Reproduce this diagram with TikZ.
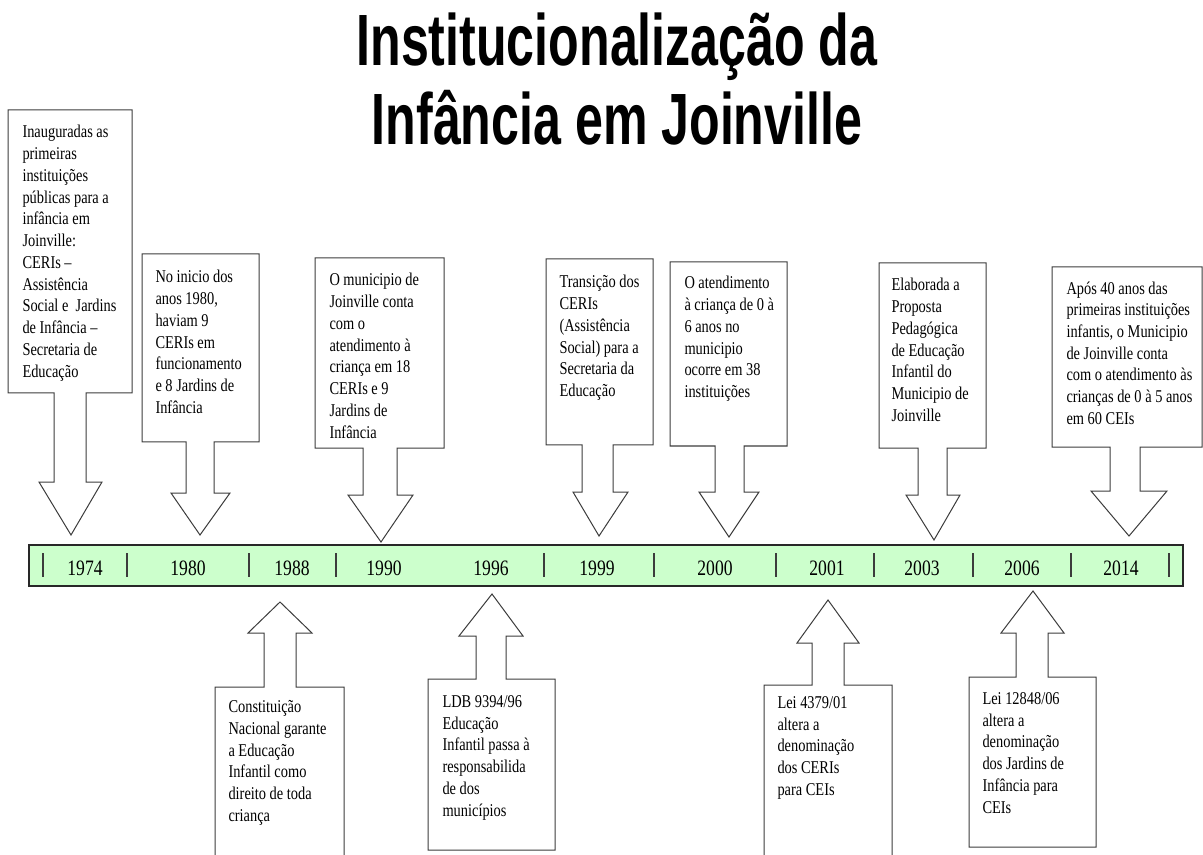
\documentclass[tikz,border=0pt]{standalone}
\usepackage{fontspec}
\setmainfont{Liberation Serif}[FakeStretch=0.8]
\newfontfamily\titlefont{Liberation Sans}[FakeStretch=0.69]

\tikzset{every picture/.style={line width=0.75pt}}
\tikzset{
  callout/.style={draw={rgb, 255:red, 60; green, 60; blue, 60}, line width=0.75, fill=white},
  boxtxt/.style={anchor=north west, inner sep=0pt, align=left, font=\fontsize{13.5pt}{16.3pt}\selectfont},
  yeartxt/.style={anchor=base, inner sep=0pt, font=\fontsize{16.5pt}{18pt}\selectfont},
  titletxt/.style={anchor=base, inner sep=0pt, font=\titlefont\bfseries\fontsize{54.5pt}{60pt}\selectfont},
  yeartick/.style={draw={rgb, 255:red, 60; green, 60; blue, 60}, line width=1.1}
}

\begin{document}
\begin{tikzpicture}[x=0.75pt,y=0.75pt,yscale=-1,xscale=1]
\useasboundingbox (0,0) rectangle (1203,855);

% Title
\draw (617,66) node (title1) [titletxt] {Institucionalização da};
\draw (617,145) node (title2) [titletxt] {Infância em Joinville};

%Shape: Rectangle [id:timeline bar]
\draw [draw={rgb, 255:red, 40; green, 40; blue, 40}, fill={rgb, 255:red, 204; green, 255; blue, 204}, line width=1] (29,545) rectangle (1183,586);
%Straight Lines [id:ticks]
\foreach \tx in {43,127,249,336,544,654,776,874,973,1071,1169}
  \draw [yeartick] (\tx,553) -- (\tx,577);

% Text Node
\draw (85,575) node (y1974) [yeartxt] {1974};
\draw (188,575) node (y1980) [yeartxt] {1980};
\draw (292,575) node (y1988) [yeartxt] {1988};
\draw (384,575) node (y1990) [yeartxt] {1990};
\draw (491,575) node (y1996) [yeartxt] {1996};
\draw (597,575) node (y1999) [yeartxt] {1999};
\draw (715,575) node (y2000) [yeartxt] {2000};
\draw (827,575) node (y2001) [yeartxt] {2001};
\draw (922,575) node (y2003) [yeartxt] {2003};
\draw (1022,575) node (y2006) [yeartxt] {2006};
\draw (1121,575) node (y2014) [yeartxt] {2014};

%Shape: Down Arrow Callout [id:1974]
\draw [callout] (8,110) -- (132,110) -- (132,393) -- (86,393) -- (86,482) -- (102,482) -- (71,535) -- (39,482) -- (54,482) -- (54,393) -- (8,393) -- cycle ;
%Shape: Down Arrow Callout [id:1980]
\draw [callout] (142,254) -- (259,254) -- (259,442) -- (214,442) -- (214,493) -- (230,493) -- (200,535) -- (171,493) -- (186,493) -- (186,442) -- (142,442) -- cycle ;
%Shape: Down Arrow Callout [id:1990]
\draw [callout] (315,258) -- (444,258) -- (444,448) -- (397,448) -- (397,495) -- (413,495) -- (381,542) -- (348,495) -- (363,495) -- (363,448) -- (315,448) -- cycle ;
%Shape: Down Arrow Callout [id:1999]
\draw [callout] (546,259) -- (653,259) -- (653,445) -- (613,445) -- (613,492) -- (628,492) -- (599,536) -- (573,492) -- (582,492) -- (582,445) -- (546,445) -- cycle ;
%Shape: Down Arrow Callout [id:2000]
\draw [callout] (670,262) -- (787,262) -- (787,446) -- (744,446) -- (744,492) -- (759,492) -- (729,537) -- (699,492) -- (715,492) -- (715,446) -- (670,446) -- cycle ;
%Shape: Down Arrow Callout [id:2003]
\draw [callout] (879,263) -- (986,263) -- (986,448) -- (947,448) -- (947,495) -- (960,495) -- (934,540) -- (906,495) -- (918,495) -- (918,448) -- (879,448) -- cycle ;
%Shape: Down Arrow Callout [id:2014]
\draw [callout] (1052,267) -- (1202,267) -- (1202,447) -- (1140,447) -- (1140,491) -- (1167,491) -- (1129,536) -- (1091,491) -- (1110,491) -- (1110,447) -- (1052,447) -- cycle ;

%Shape: Up Arrow Callout [id:1988]
\draw [callout] (280,602) -- (312,633) -- (296,633) -- (296,687) -- (344,687) -- (344,862) -- (215,862) -- (215,687) -- (264,687) -- (264,633) -- (248,633) -- cycle ;
%Shape: Up Arrow Callout [id:1996]
\draw [callout] (492,594) -- (523,636) -- (506,636) -- (506,679) -- (555,679) -- (555,850) -- (428,850) -- (428,679) -- (476,679) -- (476,636) -- (459,636) -- cycle ;
%Shape: Up Arrow Callout [id:2001]
\draw [callout] (828,600) -- (859,643) -- (844,643) -- (844,685) -- (892,685) -- (892,862) -- (764,862) -- (764,685) -- (812,685) -- (812,643) -- (797,643) -- cycle ;
%Shape: Up Arrow Callout [id:2006]
\draw [callout] (1033,591) -- (1064,633) -- (1048,633) -- (1048,677) -- (1096,677) -- (1096,847) -- (969,847) -- (969,677) -- (1016,677) -- (1016,633) -- (1001,633) -- cycle ;

% Text Node
\draw (22,125) node (t1974) [boxtxt] {Inauguradas as\\primeiras\\instituições\\públicas para a\\infância em\\Joinville:\\CERIs –\\Assistência\\Social e~ Jardins\\de Infância –\\Secretaria de\\Educação};
% Text Node
\draw (155,270) node (t1980) [boxtxt] {No inicio dos\\anos 1980,\\haviam 9\\CERIs em\\funcionamento\\e 8 Jardins de\\Infância};
% Text Node
\draw (329,273) node (t1990) [boxtxt] {O municipio de\\Joinville conta\\com o\\atendimento à\\criança em 18\\CERIs e 9\\Jardins de\\Infância};
% Text Node
\draw (559,275) node (t1999) [boxtxt] {Transição dos\\CERIs\\(Assistência\\Social) para a\\Secretaria da\\Educação};
% Text Node
\draw (684,276) node (t2000) [boxtxt] {O atendimento\\à criança de 0 à\\6 anos no\\municipio\\ocorre em 38\\instituições};
% Text Node
\draw (891,278) node (t2003) [boxtxt] {Elaborada a\\Proposta\\Pedagógica\\de Educação\\Infantil do\\Municipio de\\Joinville};
% Text Node
\draw (1066,281) node (t2014) [boxtxt] {Após 40 anos das\\primeiras instituições\\infantis, o Municipio\\de Joinville conta\\com o atendimento às\\crianças de 0 à 5 anos\\em 60 CEIs};
% Text Node
\draw (228,700) node (t1988) [boxtxt] {Constituição\\Nacional garante\\a Educação\\Infantil como\\direito de toda\\criança};
% Text Node
\draw (442,695) node (t1996) [boxtxt] {LDB 9394/96\\Educação\\Infantil passa à\\responsabilida\\de dos\\municípios};
% Text Node
\draw (777,696) node (t2001) [boxtxt] {Lei 4379/01\\altera a\\denominação\\dos CERIs\\para CEIs};
% Text Node
\draw (982,692) node (t2006) [boxtxt] {Lei 12848/06\\altera a\\denominação\\dos Jardins de\\Infância para\\CEIs};

\end{tikzpicture}
\end{document}
